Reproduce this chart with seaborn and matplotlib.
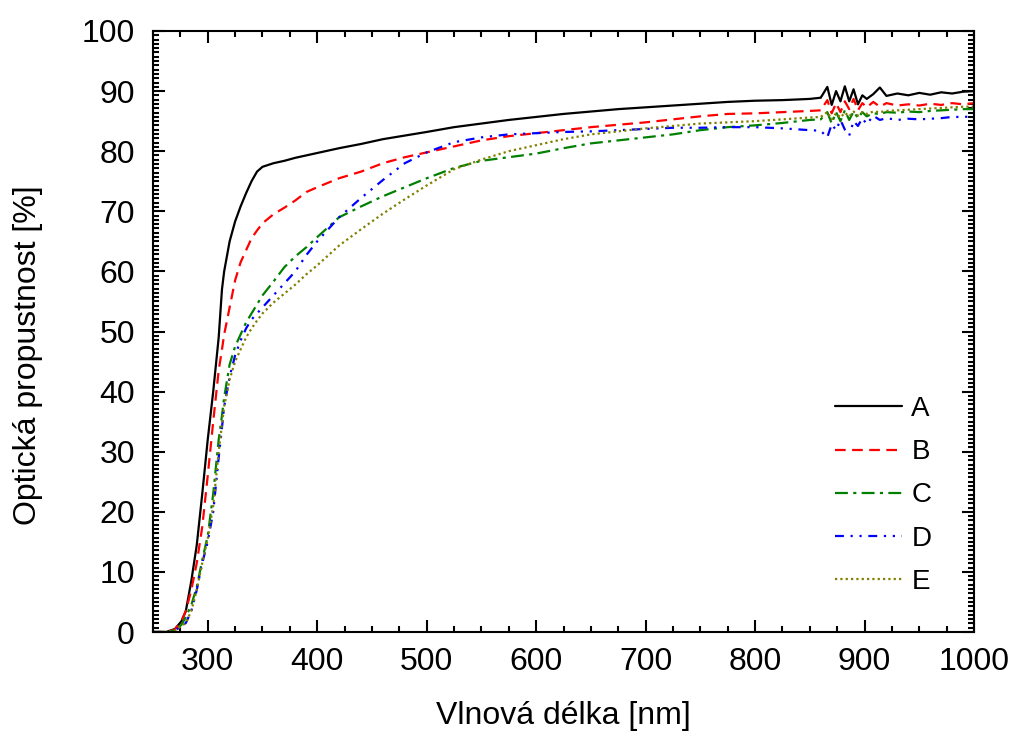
import matplotlib
matplotlib.use("Agg")
import matplotlib.pyplot as plt
import seaborn as sns
import pandas as pd
from matplotlib.ticker import MultipleLocator, AutoMinorLocator

# wavelength grid [nm]
wavelength = [250, 262, 270, 276, 280, 285, 290, 295, 300, 305,
              310, 313, 315, 320, 325, 330, 335, 340, 345, 350,
              360, 370, 380, 390, 400, 420, 440, 460, 480, 500,
              525, 550, 575, 600, 625, 650, 675, 700, 725, 750,
              775, 800, 825, 850, 860, 866, 870, 874, 878, 882,
              886, 890, 894, 898, 902, 908, 914, 920, 930, 940,
              950, 960, 970, 980, 990, 1000]

# transmittance [%]
trans_a = [0, 0, 0.5, 1.8, 3.5, 8.5, 14.5, 23, 32, 40,
           49, 57, 60, 65, 68.3, 70.8, 73, 75, 76.6, 77.4,
           78, 78.4, 78.9, 79.3, 79.7, 80.5, 81.2, 82, 82.6, 83.2,
           84, 84.6, 85.2, 85.7, 86.2, 86.6, 87, 87.3, 87.6, 87.9,
           88.2, 88.4, 88.5, 88.7, 88.9, 90.7, 87.7, 90, 88.3, 90.8,
           88.3, 90.3, 87.8, 89.3, 88.7, 89.5, 90.6, 89.2, 89.6, 89.3,
           89.7, 89.4, 89.8, 89.6, 89.9, 90]
trans_b = [0, 0, 0.4, 1.8, 3.5, 7, 11.5, 17.5, 26, 35,
           43.5, 47, 49.5, 54, 58.5, 61.5, 63.5, 65.5, 66.8, 68,
           69.5, 70.6, 71.8, 73.2, 74, 75.5, 76.6, 78, 79, 79.8,
           80.8, 81.8, 82.5, 83, 83.5, 84, 84.4, 84.8, 85.3, 85.8,
           86.2, 86.3, 86.5, 86.7, 86.8, 88.5, 86.3, 88, 86.5, 88.3,
           87, 88.7, 86.8, 88, 87.3, 88.2, 87.4, 88, 87.6, 87.8,
           87.6, 87.9, 87.7, 88, 87.8, 88]
trans_c = [0, 0, 0.3, 1.2, 2.5, 4.5, 7.5, 12, 16, 23,
           32, 36, 39, 44.5, 47.5, 49.5, 51.5, 53, 54.5, 56,
           58.3, 60.7, 62.5, 64, 65.7, 69, 70.8, 72.5, 74, 75.5,
           77.2, 78.4, 79, 79.6, 80.5, 81.3, 81.8, 82.3, 82.8, 83.5,
           84, 84.3, 84.7, 85.2, 85.3, 86.5, 84.6, 86.5, 85, 86.8,
           85.2, 86.6, 85.5, 86.5, 85.8, 86.3, 86.2, 86.5, 86.4, 86.6,
           86.5, 86.7, 86.8, 86.9, 87, 87]
trans_d = [0, 0, 0.2, 1, 1.5, 3.5, 7, 11.5, 15, 20,
           29, 34, 37.5, 42.5, 46, 48.5, 50.5, 52, 53, 54,
           56, 58, 60, 62.7, 65, 69, 72.2, 75.2, 78, 79.8,
           81.5, 82.3, 82.8, 83, 83.2, 83.3, 83.5, 83.7, 83.9, 83.9,
           84, 84, 83.8, 83.5, 83.4, 82.3, 84.5, 83.5, 85.2, 83.6,
           82.6, 85, 84.2, 85.5, 84.5, 85.9, 85.2, 85.5, 85.2, 85.4,
           85.3, 85.4, 85.5, 85.7, 85.7, 85.8]
trans_e = [0, 0, 0.2, 1, 1.5, 3.5, 7, 11.5, 15.5, 21,
           30, 34.5, 37.5, 42, 45, 47, 49, 50.5, 51.8, 53,
           54.8, 56.3, 57.8, 59.5, 61, 64.3, 67, 69.6, 72, 74.3,
           77, 78.6, 80, 81, 82, 82.8, 83.3, 83.8, 84.2, 84.6,
           84.8, 85, 85.3, 85.6, 85.7, 86.5, 85.3, 86.3, 85.6, 86.4,
           85.8, 86.6, 85.9, 86.5, 86.2, 86.6, 86.5, 86.7, 86.8, 86.9,
           87, 87.1, 87.2, 87.3, 87.4, 87.4]

labels = ['A', 'B', 'C', 'D', 'E']
series = [trans_a, trans_b, trans_c, trans_d, trans_e]
colors = ['black', '#ff0000', '#008000', '#0000ff', '#808000']
dash_styles = [(None, None), (4.8, 2.9), (5.8, 2.4, 1.4, 2.4),
               (4, 3, 1, 3, 1, 3), (1, 1.4)]

sns.set_style("ticks")
plt.rcParams['font.family'] = ['Liberation Sans', 'DejaVu Sans']
plt.rcParams['xtick.direction'] = 'in'
plt.rcParams['ytick.direction'] = 'in'
plt.rcParams['text.color'] = 'black'
plt.rcParams['axes.labelcolor'] = 'black'

fig = plt.figure(figsize=(10.15, 7.38), dpi=100)
ax = fig.add_axes([153 / 1015, 1 - 632 / 738, 821 / 1015, 601 / 738])

for lab, vals, col, ds in zip(labels, series, colors, dash_styles):
    df = pd.DataFrame({'wl': wavelength, 't': vals})
    kw = {} if ds[0] is None else {'dashes': ds}
    sns.lineplot(data=df, x='wl', y='t', ax=ax, color=col, lw=1.6,
                 label=lab, estimator=None, sort=False, **kw)

ax.set_xlim(250, 1000)
ax.set_ylim(0, 100)
ax.xaxis.set_major_locator(MultipleLocator(100))
ax.xaxis.set_minor_locator(AutoMinorLocator(4))
ax.yaxis.set_major_locator(MultipleLocator(10))
ax.yaxis.set_minor_locator(AutoMinorLocator(14))
ax.tick_params(which='both', top=True, right=True, width=1.5,
               labelsize=23, colors='black')
ax.tick_params(axis='x', which='major', length=8.5, pad=11)
ax.tick_params(axis='y', which='major', length=8.5, pad=13)
ax.tick_params(which='minor', length=4.5)
for sp in ax.spines.values():
    sp.set_linewidth(1.5)
    sp.set_color('black')

ax.set_xlabel('Vlnová délka [nm]', fontsize=23, color='black')
ax.set_ylabel('Optická propustnost [%]', fontsize=23, color='black')
ax.xaxis.set_label_coords(0.5, -0.115)
ax.yaxis.set_label_coords(-0.134, 0.461)

leg = ax.legend(loc='upper left', bbox_to_anchor=(835 / 1015, 1 - 396 / 738),
                bbox_transform=fig.transFigure, frameon=False, fontsize=20,
                handlelength=2.4, handletextpad=0.35, labelspacing=0.62,
                borderpad=0, borderaxespad=0)
for t in leg.get_texts():
    t.set_color('black')

fig.savefig('out.png', dpi=100)
